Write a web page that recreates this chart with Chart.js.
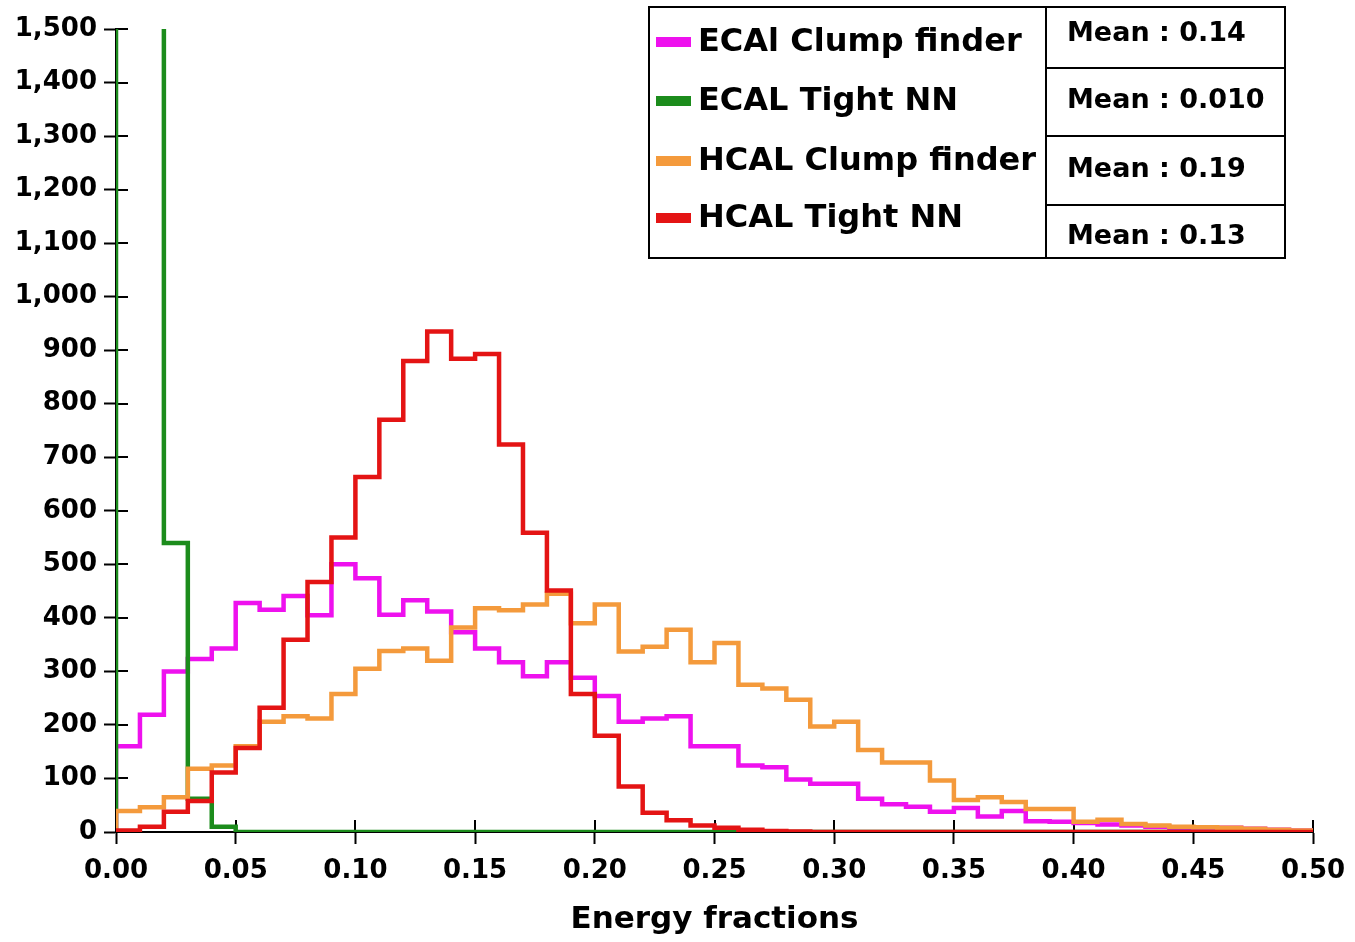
<!DOCTYPE html>
<html>
<head>
<meta charset="utf-8">
<title>Energy fractions</title>
<script src="https://cdn.jsdelivr.net/npm/chart.js@4.4.1/dist/chart.umd.min.js"></script>
<style>
  html, body { margin: 0; padding: 0; background: #fff; }
  #wrap { width: 1355px; height: 942px; }
</style>
</head>
<body>
<div id="wrap"><canvas id="histo" width="1355" height="942"></canvas></div>
<script>
// ── Data ───────────────────────────────────────────────────────────────────
const binEdges = [
  0.00, 0.01, 0.02, 0.03, 0.04, 0.05, 0.06, 0.07, 0.08, 0.09,
  0.10, 0.11, 0.12, 0.13, 0.14, 0.15, 0.16, 0.17, 0.18, 0.19,
  0.20, 0.21, 0.22, 0.23, 0.24, 0.25, 0.26, 0.27, 0.28, 0.29,
  0.30, 0.31, 0.32, 0.33, 0.34, 0.35, 0.36, 0.37, 0.38, 0.39,
  0.40, 0.41, 0.42, 0.43, 0.44, 0.45, 0.46, 0.47, 0.48, 0.49,
  0.50,
];

const seriesNames = ['ECAl Clump finder', 'ECAL Tight NN', 'HCAL Clump finder', 'HCAL Tight NN'];
const seriesMeans = ['Mean : 0.14', 'Mean : 0.010', 'Mean : 0.19', 'Mean : 0.13'];

// counts per bin (width 0.01)
const ecalClump = [
  160, 219, 300, 323, 343, 428, 415, 441, 405, 500,
  474, 406, 433, 412, 373, 343, 317, 291, 317, 288,
  254, 206, 212, 216, 160, 160, 124, 121, 98, 90,
  90, 62, 52, 47, 38, 45, 29, 39, 20, 19,
  17, 14, 12, 10, 8, 7, 8, 6, 4, 3,
];
const ecalTight = [
  5400, 3385, 540, 62, 10, 0, 0, 0, 0, 0,
  0, 0, 0, 0, 0, 0, 0, 0, 0, 0,
  0, 0, 0, 0, 0, 0, 0, 0, 0, 0,
  0, 0, 0, 0, 0, 0, 0, 0, 0, 0,
  0, 0, 0, 0, 0, 0, 0, 0, 0, 0,
];
const hcalClump = [
  39, 46, 65, 118, 124, 160, 206, 216, 212, 258,
  305, 338, 343, 320, 382, 418, 414, 425, 445, 390,
  425, 337, 346, 378, 317, 353, 275, 268, 247, 197,
  206, 153, 130, 130, 96, 60, 65, 56, 43, 43,
  19, 23, 15, 12, 10, 9, 8, 6, 4, 3,
];
const hcalTight = [
  3, 10, 38, 58, 111, 157, 232, 359, 467, 550,
  663, 770, 880, 935, 884, 893, 724, 559, 451, 258,
  180, 85, 36, 22, 12, 8, 4, 2, 1, 0,
  0, 0, 0, 0, 0, 0, 0, 0, 0, 0,
  0, 0, 0, 0, 0, 0, 0, 0, 0, 0,
];

const seriesColors = ['#ee11ee', '#1c8c1c', '#f49a3c', '#e41414'];
const FONT = "'DejaVu Sans', 'Liberation Sans', sans-serif";

// ── Helpers ────────────────────────────────────────────────────────────────
// outline of a histogram: points at the left bin edges, closed down to 0 at both ends
function stepPoints(values) {
  const last = binEdges.length - 1;
  const pts = [{ x: binEdges[0], y: 0 }];
  values.forEach((v, i) => pts.push({ x: binEdges[i], y: v }));
  pts.push({ x: binEdges[last], y: values[values.length - 1] });
  pts.push({ x: binEdges[last], y: 0 });
  return pts;
}

function histDataset(idx, values) {
  return {
    label          : seriesNames[idx],
    data           : stepPoints(values),
    borderColor    : seriesColors[idx],
    borderWidth    : 4.5,
    stepped        : 'before',
    pointRadius    : 0,
    fill           : false,
    borderJoinStyle: 'miter',
    borderCapStyle : 'butt',
    order          : 4 - idx,
  };
}

// tick marks cross the axis: Chart.js draws the outer half, this draws the inner half
const innerTicks = {
  id: 'innerTicks',
  beforeDatasetsDraw(chart) {
    const { ctx, chartArea, scales } = chart;
    ctx.save();
    ctx.strokeStyle = '#000';
    ctx.lineWidth = 2;
    ctx.beginPath();
    scales.x.ticks.forEach(t => {
      const px = Math.round(scales.x.getPixelForValue(t.value));
      ctx.moveTo(px, chartArea.bottom);
      ctx.lineTo(px, chartArea.bottom - 12);
    });
    scales.y.ticks.forEach(t => {
      const py = Math.round(scales.y.getPixelForValue(t.value));
      ctx.moveTo(chartArea.left, py);
      ctx.lineTo(chartArea.left + 12, py);
    });
    ctx.stroke();
    ctx.restore();
  },
};

// legend + mean table in the top right corner
const statBox = {
  id: 'statBox',
  afterDraw(chart) {
    const ctx = chart.ctx;
    const L = 649, T = 7, R = 1285, B = 258, split = 1046;
    const rowLines  = [68, 136, 205];
    const labelY    = [43, 102, 162, 219];
    const meanY     = [34, 101, 170, 237];

    ctx.save();
    ctx.fillStyle = '#fff';
    ctx.fillRect(L, T, R - L, B - T);
    ctx.strokeStyle = '#000';
    ctx.lineWidth = 2;
    ctx.strokeRect(L, T, R - L, B - T);
    ctx.beginPath();
    ctx.moveTo(split, T);
    ctx.lineTo(split, B);
    rowLines.forEach(y => { ctx.moveTo(split, y); ctx.lineTo(R, y); });
    ctx.stroke();

    ctx.textBaseline = 'middle';
    ctx.textAlign = 'left';
    seriesNames.forEach((name, i) => {
      ctx.fillStyle = seriesColors[i];
      ctx.fillRect(656, labelY[i] - 6, 35, 10);
      ctx.fillStyle = '#000';
      ctx.font = 'bold 32px ' + FONT;
      ctx.fillText(name, 698, labelY[i]);
    });
    ctx.font = 'bold 27px ' + FONT;
    seriesMeans.forEach((m, i) => ctx.fillText(m, 1067, meanY[i]));
    ctx.restore();
  },
};

// ── Chart ──────────────────────────────────────────────────────────────────
const axisGrid = {
  drawOnChartArea: false,
  drawTicks      : true,
  tickLength     : 12,
  tickWidth      : 2,
  tickColor      : '#000',
};

new Chart(document.getElementById('histo').getContext('2d'), {
  type: 'line',
  data: {
    datasets: [
      histDataset(0, ecalClump),
      histDataset(1, ecalTight),
      histDataset(2, hcalClump),
      histDataset(3, hcalTight),
    ],
  },
  options: {
    responsive: false,
    animation : false,
    layout    : { padding: { top: 29, right: 42, bottom: 0, left: 0 } },
    plugins   : {
      legend : { display: false },
      tooltip: { enabled: false },
    },
    scales: {
      x: {
        type  : 'linear',
        min   : 0,
        max   : 0.5,
        grid  : axisGrid,
        border: { color: '#000', width: 2 },
        ticks : {
          stepSize   : 0.05,
          autoSkip   : false,
          maxRotation: 0,
          padding    : 12,
          color      : '#000',
          font       : { family: FONT, weight: 'bold', size: 26 },
          callback   : v => v.toFixed(2),
        },
        title: {
          display: true,
          text   : 'Energy fractions',
          color  : '#000',
          font   : { family: FONT, weight: 'bold', size: 31 },
          padding: { top: 0, bottom: 3 },
        },
        afterFit: s => {
          s.height = 110;
          s.paddingLeft = 0;
          s.paddingRight = 0;
        },
      },
      y: {
        min   : 0,
        max   : 1500,
        grid  : axisGrid,
        border: { color: '#000', width: 2 },
        ticks : {
          stepSize: 100,
          padding : 7,
          color   : '#000',
          font    : { family: FONT, weight: 'bold', size: 26 },
          callback: v => v.toLocaleString('en-US'),
        },
        afterFit: s => { s.width = 116; },
      },
    },
  },
  plugins: [innerTicks, statBox],
});
</script>
</body>
</html>
